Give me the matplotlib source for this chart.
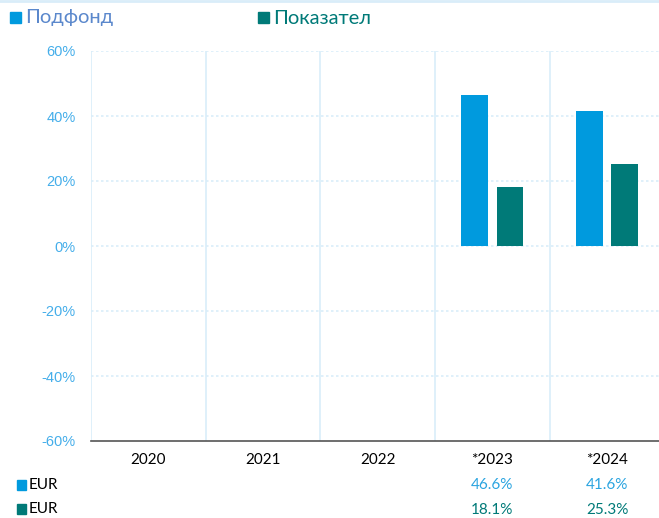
import matplotlib
matplotlib.use("Agg")
import matplotlib.pyplot as plt
import matplotlib.transforms as mtransforms
from matplotlib.patches import Rectangle
import numpy as np

# Datos
years = ["2020", "2021", "2022", "*2023", "*2024"]
fund = [None, None, None, 46.6, 41.6]
index = [None, None, None, 18.1, 25.3]
series_names = ["Подфонд", "Показател"]
row_labels = ["EUR", "EUR"]

BLUE = "#009ade"
TEAL = "#007a78"
GRID = "#d9edf9"
TICK = "#45aeea"

fig = plt.figure(figsize=(6.59, 5.18), dpi=100)
ax = fig.add_axes([91 / 659, 77 / 518, 573.5 / 659, 390 / 518])

x = np.arange(len(years))
w = 0.235
off = 0.153
for i, (f, p) in enumerate(zip(fund, index)):
    if f is not None:
        ax.bar(x[i] - off, f, w, color=BLUE, zorder=3)
    if p is not None:
        ax.bar(x[i] + off, p, w, color=TEAL, zorder=3)

ax.set_xlim(-0.5, len(years) - 0.5)
ax.set_ylim(-60, 60)
ax.set_yticks(np.arange(-60, 61, 20))
ax.set_yticklabels([f"{v}%" for v in range(-60, 61, 20)])
ax.tick_params(axis="y", length=0, pad=11, labelcolor=TICK, labelsize=10.5)
for lbl in ax.get_yticklabels():
    lbl.set_fontfamily("Liberation Sans")

# gridlines
for v in range(-40, 61, 20):
    ax.axhline(v, color=GRID, lw=1.2, ls=(0, (1.5, 1.5)), zorder=1)
ax.set_xticks([])
for b in np.arange(-0.5, len(years), 1.0):
    ax.axvline(b, color=GRID, lw=1.2, zorder=1)

for s in ["top", "right", "left"]:
    ax.spines[s].set_visible(False)
ax.spines["bottom"].set_color("#555555")
ax.spines["bottom"].set_linewidth(1.2)

# etiquetas de años y tabla
trans = mtransforms.blended_transform_factory(ax.transData, ax.transAxes)
for i, y in enumerate(years):
    ax.text(x[i], -0.05, y, transform=trans, ha="center", va="center",
            fontsize=11, family="Lato", color="black")
for i, (f, p) in enumerate(zip(fund, index)):
    if f is not None:
        ax.text(x[i], -0.114, f"{f:.1f}%", transform=trans, ha="center",
                va="center", fontsize=11, family="Lato", color="#2aa4e0")
    if p is not None:
        ax.text(x[i], -0.176, f"{p:.1f}%", transform=trans, ha="center",
                va="center", fontsize=11, family="Lato", color=TEAL)

for k, (lab, col) in enumerate(zip(row_labels, [BLUE, TEAL])):
    yc = 1 - (485 + k * 24) / 518
    fig.patches.append(Rectangle((17 / 659, yc - 5 / 518), 9 / 659, 10 / 518,
                                 transform=fig.transFigure, color=col))
    fig.text(29 / 659, yc, lab, ha="left", va="center", fontsize=11,
             family="Lato", color="black")

# leyenda superior
leg = [(10, series_names[0], BLUE, "#5b88cc"), (258, series_names[1], TEAL, TEAL)]
for xs, name, col, tcol in leg:
    fig.patches.append(Rectangle((xs / 659, 1 - 23 / 518), 11 / 659, 11 / 518,
                                 transform=fig.transFigure, color=col))
    fig.text((xs + 15) / 659, 1 - 18 / 518, name, ha="left", va="center",
             fontsize=14.5, family="Lato", color=tcol)

fig.add_artist(plt.Line2D([0, 1], [1 - 1 / 518, 1 - 1 / 518],
                          transform=fig.transFigure, color=GRID, lw=2))

fig.savefig("out.png", dpi=100)
